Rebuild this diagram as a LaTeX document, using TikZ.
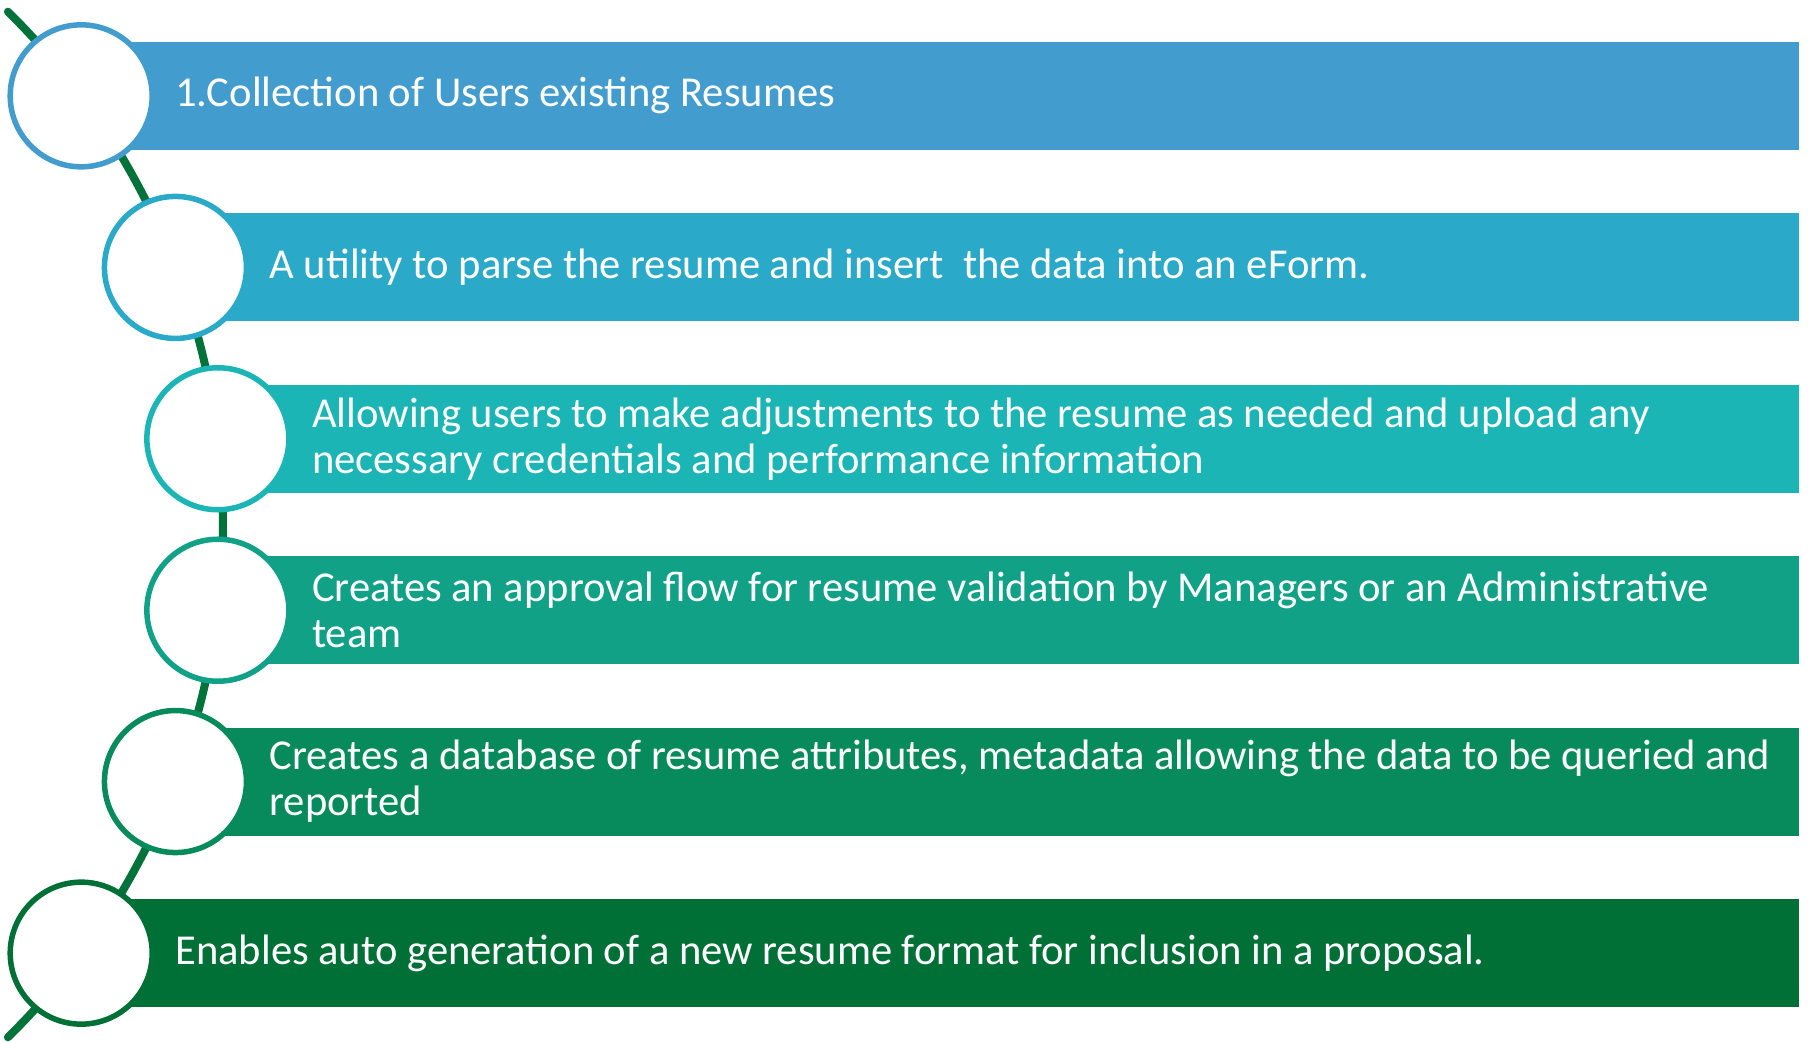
\documentclass[tikz,border=0pt]{standalone}
\usepackage{fontspec}
\setmainfont{Carlito}
\usetikzlibrary{calc}
\definecolor{rowA}{HTML}{439CCE}
\definecolor{rowB}{HTML}{2AAAC8}
\definecolor{rowC}{HTML}{1BB5B5}
\definecolor{rowD}{HTML}{10A187}
\definecolor{rowE}{HTML}{078B5C}
\definecolor{rowF}{HTML}{007036}
\definecolor{spine}{HTML}{00723A}

\begin{document}
\begin{tikzpicture}[x=1pt, y=1pt,
    dot/.style={circle, line width=5.5pt, fill=white, minimum size=142pt, inner sep=0pt},
    txt/.style={anchor=west, text=white, align=left, inner sep=0pt,
      font=\fontsize{42.6}{46}\selectfont}]
  \useasboundingbox (0,0) rectangle (1808,1042);
  \coordinate (hub) at (-496,517.5);
  \coordinate (barend) at (1799,0);
  % --- the green spine behind the circles ---
  \coordinate (spinetop) at ([shift={(45.5:719)}]hub);
  \draw[spine, line width=8pt, line cap=round]
    (spinetop) arc[start angle=45.5, end angle=-45.5, radius=719];
  % --- bars and their texts ---
  \foreach \i/\ang/\col/\lbl in {
      1/36.6/rowA/{1.Collection of Users existing Resumes},
      2/20.95/rowB/{A utility to parse the resume and insert~ the data into an eForm.},
      3/6.85/rowC/{Allowing users to make adjustments to the resume as needed and upload any\\necessary credentials and performance information},
      4/-6.85/rowD/{Creates an approval flow for resume validation by Managers or an Administrative\\team},
      5/-20.95/rowE/{Creates a database of resume attributes, metadata allowing the data to be queried and\\reported},
      6/-36.6/rowF/{Enables auto generation of a new resume format for inclusion in a proposal.}}
    {\coordinate (p\i) at ([shift={(\ang:719)}]hub);
     \fill[\col] ($(p\i)+(0,54)$) rectangle ($(p\i -| barend)+(0,-54)$);
     \node[txt] (t\i) at ([xshift=94]p\i) {\lbl};}
  % --- white circles on top ---
  \foreach \i/\col in {1/rowA, 2/rowB, 3/rowC, 4/rowD, 5/rowE, 6/rowF}
    {\node[dot, draw=\col] (c\i) at (p\i) {};}
\end{tikzpicture}
\end{document}
